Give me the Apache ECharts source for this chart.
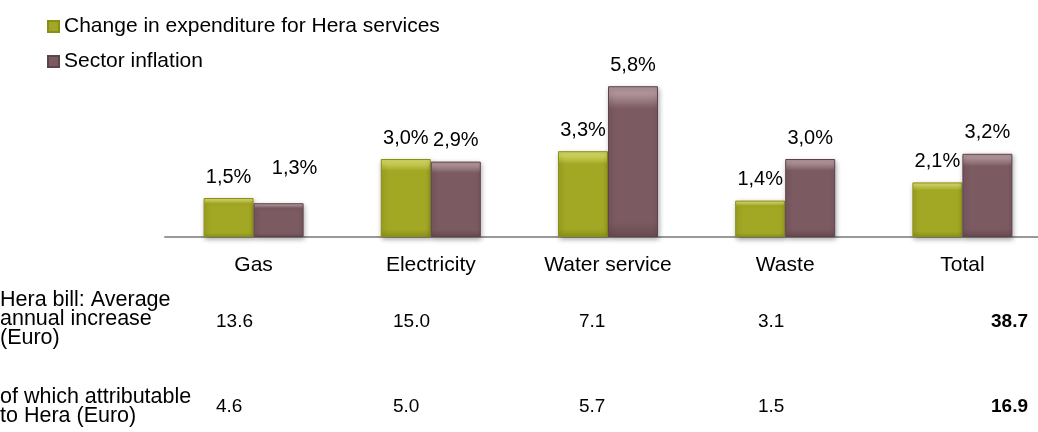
<!DOCTYPE html>
<html>
<head>
<meta charset="utf-8">
<script src="https://cdn.jsdelivr.net/npm/echarts@6/dist/echarts.min.js"></script>
<style>
  html, body { margin: 0; padding: 0; background: #fff; }
  #chart { width: 1038px; height: 432px; }
</style>
</head>
<body>
<div id="chart"></div>
<script>
const categories = ['Gas', 'Electricity', 'Water service', 'Waste', 'Total'];
const seriesNames = ['Change in expenditure for Hera services', 'Sector inflation'];
const heraChange = [1.5, 3.0, 3.3, 1.4, 2.1];
const sectorInflation = [1.3, 2.9, 5.8, 3.0, 3.2];
const rowLabels = ['Hera bill: Average\nannual increase\n(Euro)', 'of which attributable\nto Hera (Euro)'];
const billIncrease = ['13.6', '15.0', '7.1', '3.1', '38.7'];
const heraAttributable = ['4.6', '5.0', '5.7', '1.5', '16.9'];

const FONT = 'Liberation Sans, Arial, sans-serif';

const chart = echarts.init(document.getElementById('chart'), null, { renderer: 'canvas' });

function grad(top, mid, bottom) {
  return new echarts.graphic.LinearGradient(0, 0, 0, 1, [
    { offset: 0, color: top },
    { offset: 0.05, color: top },
    { offset: 0.15, color: mid },
    { offset: 0.9, color: mid },
    { offset: 1, color: bottom }
  ]);
}
const greenFill = grad('#d2d65e', '#a2a724', '#8e9318');
const purpleFill = grad('#b0949a', '#7b5a61', '#6a4b52');

const fmt = p => p.value.toFixed(1).replace('.', ',') + '%';

// label nudges (layout only)
const nudge = { '1-0': [16, -14] };
function mk(values, si) {
  return values.map((v, i) => {
    const n = nudge[si + '-' + i];
    const d = { value: v };
    if (n) d.label = { offset: n };
    return d;
  });
}

// table layout (pixel positions of text)
const colX = [216, 393, 579, 758, 991];
const rowY = [322, 407];
const rowLabelY = [319, 407];

const graphics = [];
rowLabels.forEach((t, r) => {
  graphics.push({
    type: 'text', silent: true, x: 0, y: rowLabelY[r],
    style: { text: t, font: '21.5px ' + FONT, fill: '#000', lineHeight: 19, textAlign: 'left', textVerticalAlign: 'middle', verticalAlign: 'middle' }
  });
});
[billIncrease, heraAttributable].forEach((row, r) => {
  row.forEach((t, c) => {
    graphics.push({
      type: 'text', silent: true,
      x: colX[c], y: rowY[r],
      style: {
        text: t,
        font: (c === 4 ? 'bold ' : '') + '19px ' + FONT,
        fill: '#000', textAlign: 'left', textVerticalAlign: 'middle', verticalAlign: 'middle'
      }
    });
  });
});

const option = {
  animation: false,
  backgroundColor: '#fff',
  legend: {
    orient: 'vertical', left: 42, top: 11, itemGap: 14,
    itemWidth: 11, itemHeight: 11, icon: 'rect',
    textStyle: { fontFamily: FONT, fontSize: 21, color: '#000' },
    data: seriesNames
  },
  grid: { left: 165, width: 886, top: 81, bottom: 195, containLabel: false, outerBoundsMode: 'none' },
  xAxis: {
    type: 'category', data: categories,
    axisLine: { lineStyle: { color: '#999', width: 2 } },
    axisTick: { show: false },
    axisLabel: { fontFamily: FONT, fontSize: 21, color: '#000', margin: 18 }
  },
  yAxis: { type: 'value', min: 0, max: 6, show: false, splitLine: { show: false } },
  series: [
    {
      name: seriesNames[0], type: 'bar', data: mk(heraChange, 0),
      barWidth: 50, barGap: '0%',
      itemStyle: { color: greenFill, borderColor: '#8a8f16', borderWidth: 1, shadowColor: 'rgba(0,0,0,0.35)', shadowBlur: 5, shadowOffsetX: 1, shadowOffsetY: 2 },
      label: { show: true, position: 'top', distance: 11, formatter: fmt, fontFamily: FONT, fontSize: 20, color: '#000' }
    },
    {
      name: seriesNames[1], type: 'bar', data: mk(sectorInflation, 1),
      barWidth: 50, barGap: '0%',
      itemStyle: { color: purpleFill, borderColor: '#5e434a', borderWidth: 1, shadowColor: 'rgba(0,0,0,0.35)', shadowBlur: 5, shadowOffsetX: 1, shadowOffsetY: 2 },
      label: { show: true, position: 'top', distance: 11, formatter: fmt, fontFamily: FONT, fontSize: 20, color: '#000' }
    }
  ],
  graphic: graphics
};
chart.setOption(option);
</script>
</body>
</html>
